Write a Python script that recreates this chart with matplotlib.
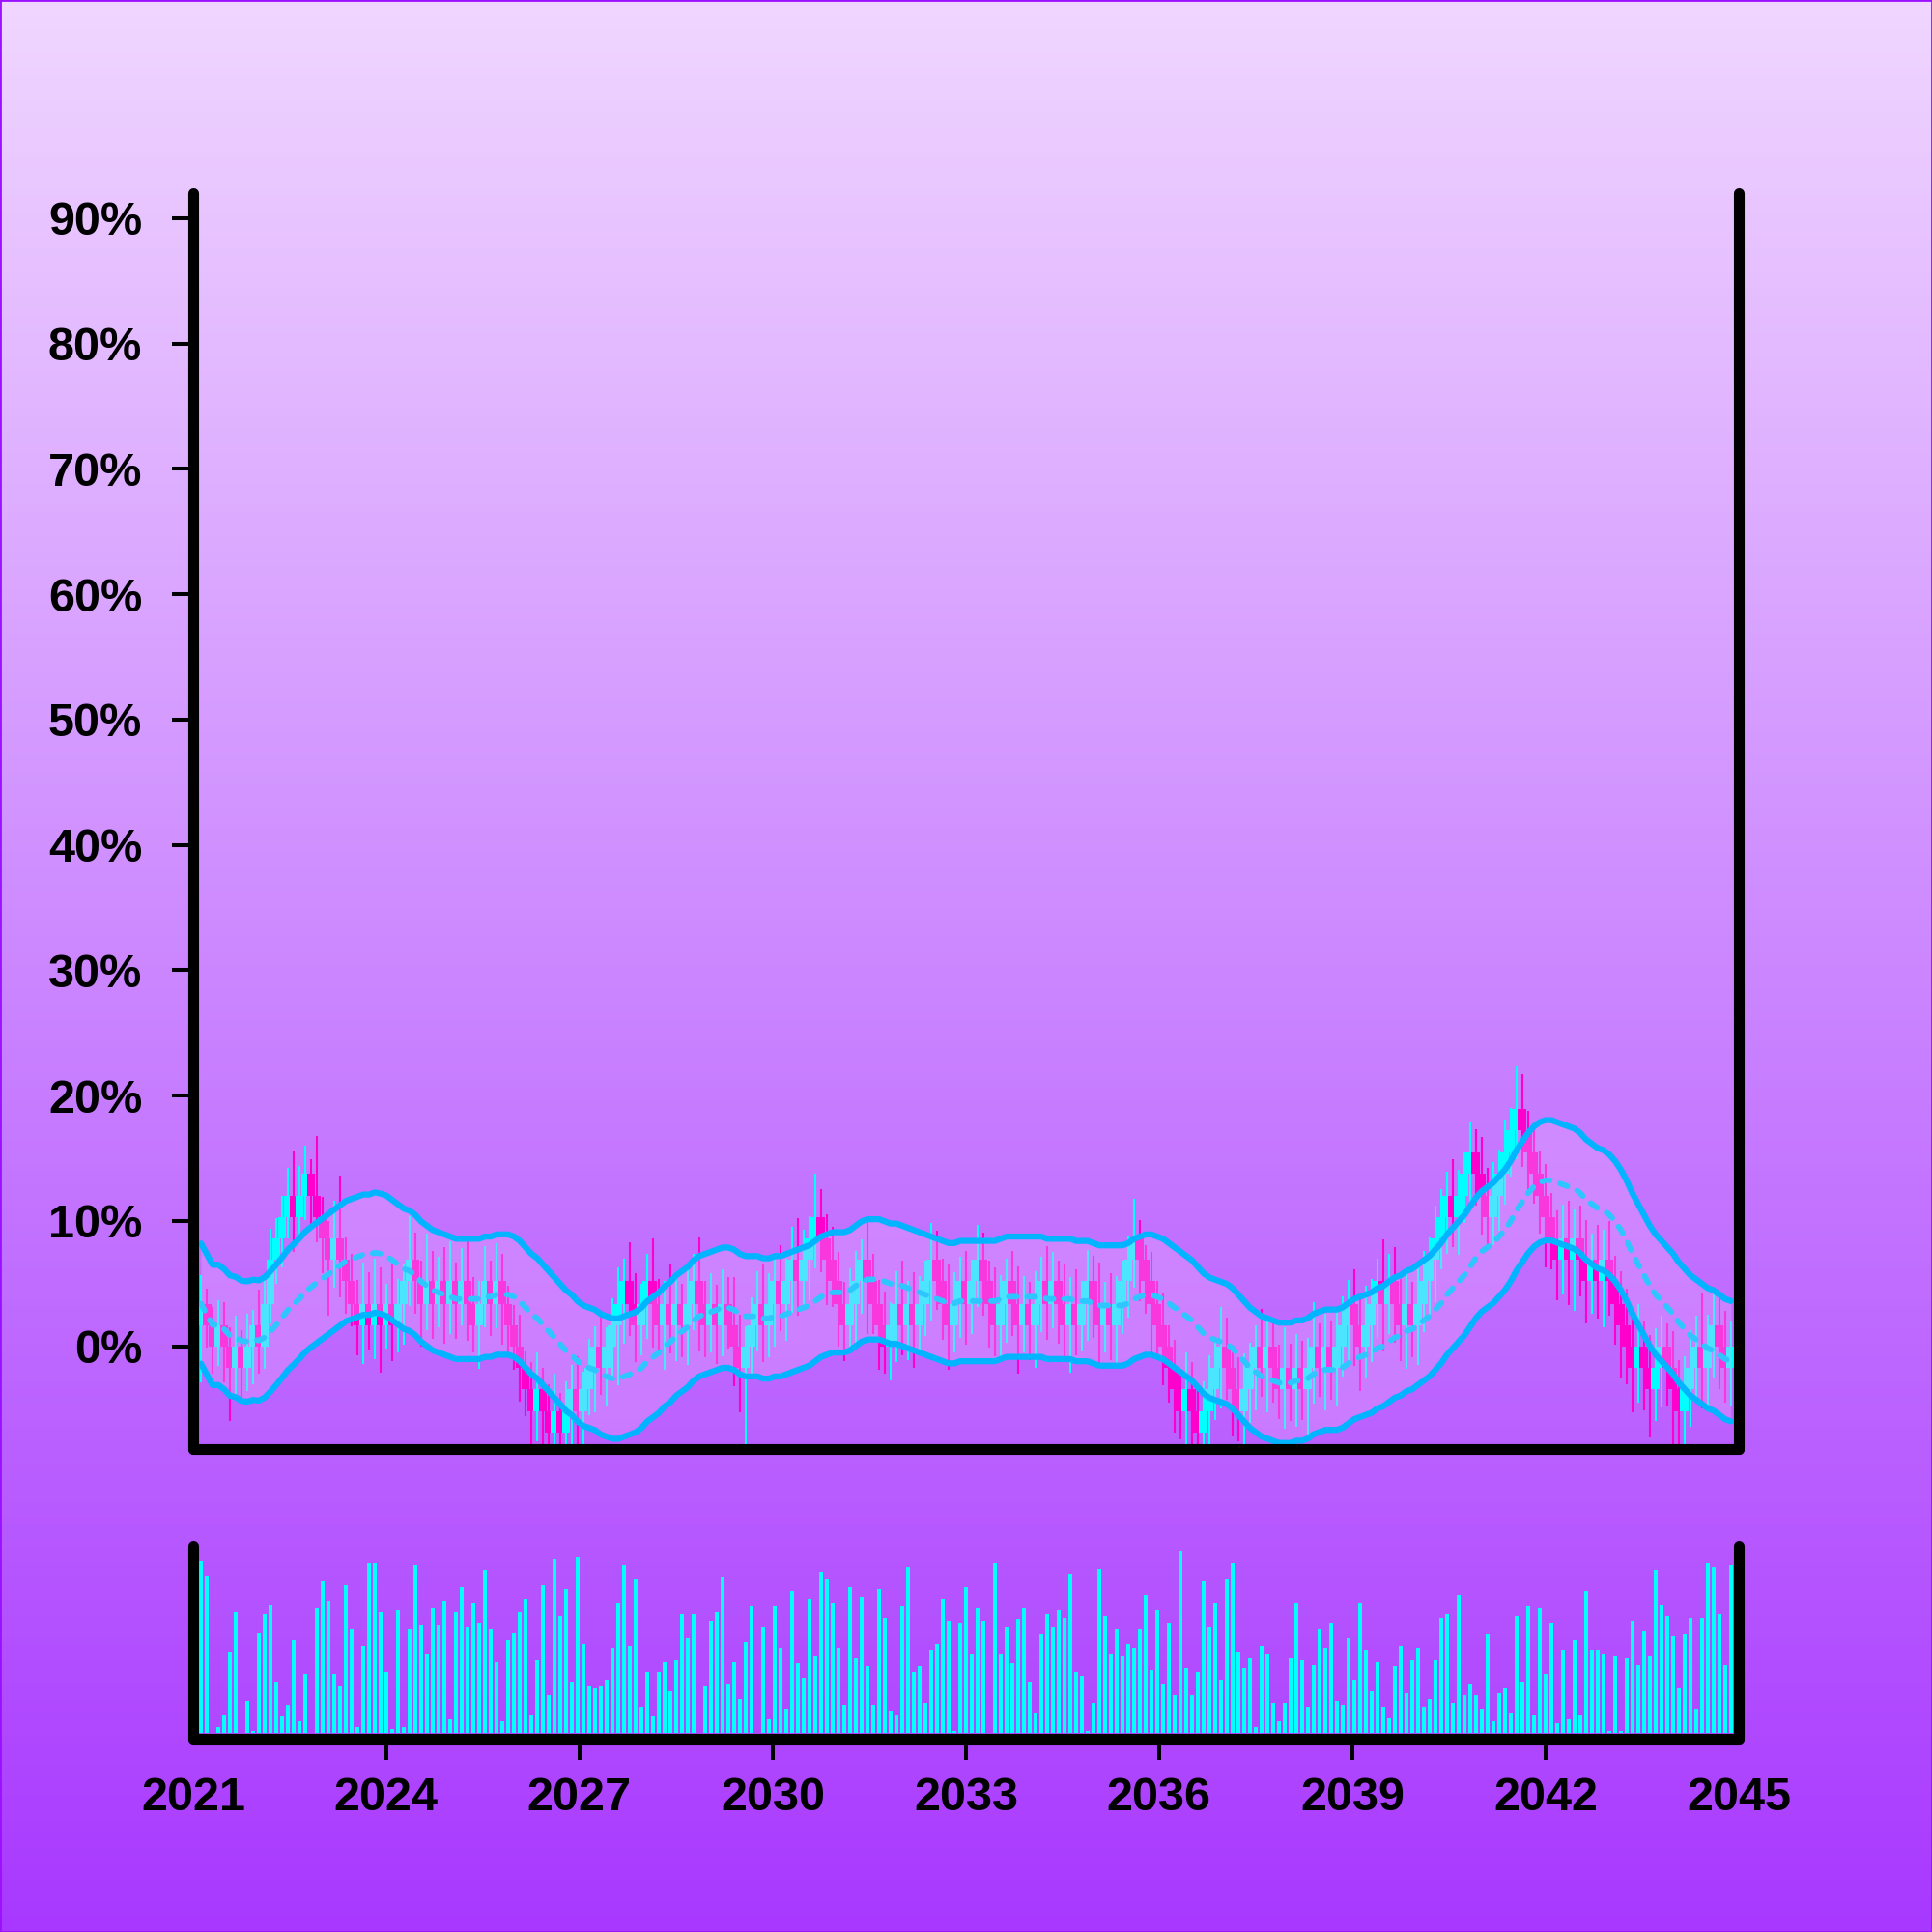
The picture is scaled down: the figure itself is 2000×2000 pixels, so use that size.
import numpy as np
import pandas as pd
import matplotlib
matplotlib.use("Agg")
import matplotlib.pyplot as plt
import matplotlib.dates as mdates
from matplotlib.colors import LinearSegmentedColormap
from matplotlib.patches import Rectangle
from datetime import datetime

plt.rcParams["font.family"] = ["Liberation Sans", "DejaVu Sans"]

# one candle roughly every 33 days, Feb 2021 .. Nov 2044
dates = pd.date_range("2021-02-14", "2044-11-17", periods=265)

first_open = 1.7
closes = [
    3.4, 1.7, 0, 1.7, 0, -1.7, 0, -1.7, 0, 1.7, 0, 3.4, 6.9, 8.6, 10.3, 12.0, 10.3, 12.0, 13.8, 12.0,
    10.3, 8.6, 6.9, 8.6, 6.9, 5.2, 3.4, 1.7, 3.4, 1.7, 3.4, 1.7, 3.4, 1.7, 3.4, 5.2, 6.9, 5.2, 3.4, 5.2,
    3.4, 5.2, 3.4, 5.2, 3.4, 5.2, 3.4, 1.7, 3.4, 5.2, 3.4, 5.2, 3.4, 1.7, 0, -1.7, -3.4, -5.2, -3.4, -5.2,
    -6.9, -5.2, -6.9, -5.2, -3.4, -5.2, -3.4, -1.7, 0, -1.7, 0, 1.7, 3.4, 5.2, 3.4, 1.7, 3.4, 5.2, 3.4, 1.7,
    3.4, 1.7, 3.4, 1.7, 3.4, 5.2, 3.4, 1.7, 3.4, 1.7, 3.4, 1.7, 0, -1.7, 0, 1.7, 3.4, 1.7, 3.4, 5.2,
    3.4, 5.2, 6.9, 5.2, 6.9, 8.6, 10.3, 8.6, 6.9, 5.2, 3.4, 1.7, 3.4, 5.2, 6.9, 5.2, 3.4, 1.7, 0, 1.7,
    3.4, 1.7, 3.4, 1.7, 3.4, 5.2, 6.9, 5.2, 3.4, 1.7, 3.4, 5.2, 3.4, 5.2, 6.9, 5.2, 3.4, 1.7, 3.4, 5.2,
    3.4, 1.7, 3.4, 1.7, 3.4, 5.2, 3.4, 5.2, 3.4, 1.7, 3.4, 1.7, 3.4, 5.2, 3.4, 1.7, 3.4, 1.7, 3.4, 5.2,
    6.9, 8.6, 6.9, 5.2, 3.4, 1.7, 0, -1.7, -3.4, -5.2, -3.4, -5.2, -6.9, -5.2, -3.4, -1.7, 0, -1.7, -3.4, -5.2,
    -3.4, -1.7, 0, -1.7, 0, -1.7, -3.4, -1.7, -3.4, -1.7, -3.4, -1.7, 0, -1.7, 0, -1.7, 0, 1.7, 3.4, 1.7,
    0, 1.7, 3.4, 5.2, 3.4, 5.2, 3.4, 1.7, 3.4, 1.7, 3.4, 5.2, 6.9, 8.6, 10.3, 12.0, 10.3, 12.0, 13.8, 15.5,
    13.8, 12.0, 10.3, 12.0, 13.8, 15.5, 17.2, 18.9, 17.2, 15.5, 13.8, 12.0, 10.3, 8.6, 6.9, 8.6, 6.9, 8.6, 6.9, 5.2,
    6.9, 5.2, 6.9, 5.2, 3.4, 1.7, 0, -1.7, 0, -1.7, -3.4, -1.7, 0, -1.7, -3.4, -5.2, -3.4, -1.7, 0, -1.7,
    0, 1.7, 0, -1.7, 0,
]

# wick length above / below the candle body
upper_wick = [
    2.3, 1.2, 1.4, 2.0, 1.8, 1.5, 2.4, 1.3, 2.6, 1.2, 2.8, 1.9, 2.5, 1.6, 1.7, 2.2, 3.6, 2.4, 2.2, 1.1,
    4.8, 1.6, 1.4, 3.0, 5.0, 1.8, 2.2, 1.9, 3.3, 2.5, 3.6, 2.9, 1.6, 3.1, 2.0, 1.3, 3.5, 2.2, 1.6, 3.8,
    2.4, 1.9, 2.7, 3.2, 1.5, 2.6, 3.4, 2.1, 1.8, 2.8, 1.6, 3.0, 2.2, 1.4, 1.6, 2.5, 1.3, 2.1, 2.9, 1.7,
    2.2, 3.0, 1.5, 2.4, 1.9, 2.6, 1.4, 2.3, 1.6, 2.8, 1.5, 2.1, 2.9, 1.8, 3.1, 2.4, 1.6, 2.2, 3.4, 2.0,
    1.8, 3.2, 2.5, 1.6, 2.9, 2.2, 3.5, 1.8, 2.4, 1.5, 2.7, 2.1, 3.8, 2.5, 1.6, 2.2, 2.6, 3.1, 2.4, 1.7,
    2.9, 1.8, 2.6, 3.3, 2.4, 1.8, 3.5, 2.2, 1.9, 2.6, 2.3, 1.7, 2.8, 2.4, 1.6, 3.0, 2.2, 1.9, 2.7, 1.8,
    2.6, 3.4, 1.8, 2.5, 2.2, 1.6, 2.9, 2.3, 1.8, 3.1, 2.5, 1.9, 2.4, 1.7, 2.8, 2.2, 1.6, 2.9, 2.3, 1.8,
    2.4, 3.0, 2.2, 1.7, 2.6, 1.9, 2.8, 2.3, 1.6, 3.2, 2.1, 2.7, 1.8, 2.5, 2.0, 3.3, 1.7, 2.4, 2.2, 1.6,
    1.9, 3.2, 1.5, 1.2, 2.3, 1.8, 2.6, 1.7, 2.2, 1.6, 2.9, 2.1, 1.8, 2.4, 2.7, 2.0, 3.1, 2.3, 1.6, 2.5,
    2.8, 2.0, 1.7, 3.0, 2.4, 2.2, 1.8, 3.2, 1.9, 2.7, 2.1, 2.4, 3.5, 1.8, 2.6, 2.0, 2.9, 2.3, 1.9, 2.7,
    2.3, 3.1, 2.0, 1.8, 3.3, 2.2, 2.7, 2.0, 2.9, 1.7, 3.0, 2.4, 1.8, 2.6, 2.2, 1.9, 2.9, 2.1, 1.7, 2.4,
    1.8, 2.9, 2.2, 2.7, 1.9, 2.6, 1.8, 3.4, 2.8, 1.6, 2.1, 1.8, 2.5, 1.9, 2.2, 2.7, 3.0, 2.3, 2.6, 3.2,
    2.1, 2.8, 2.4, 3.1, 2.0, 2.6, 2.9, 2.2, 3.4, 2.0, 2.6, 3.1, 2.4, 1.8, 2.9, 2.3, 2.6, 3.0, 2.4, 4.2,
    2.5, 3.0, 2.2, 2.8, 2.0,
]
lower_wick = [
    4.6, 1.8, 2.2, 1.6, 2.9, 4.3, 2.1, 2.6, 1.9, 3.0, 2.2, 1.8, 1.6, 1.9, 2.3, 1.7, 2.8, 2.1, 1.9, 2.5,
    2.0, 2.8, 4.5, 2.2, 3.0, 2.6, 1.8, 2.4, 3.1, 2.0, 2.7, 3.8, 1.9, 2.9, 2.2, 3.3, 2.0, 2.6, 3.4, 2.1,
    2.8, 1.9, 3.2, 2.4, 2.8, 1.7, 3.0, 2.2, 3.5, 1.9, 2.6, 2.0, 3.3, 2.4, 1.9, 2.7, 2.2, 3.5, 2.4, 2.8,
    2.0, 3.1, 2.6, 2.4, 3.3, 2.7, 3.4, 2.1, 3.6, 2.2, 3.0, 2.5, 4.8, 3.2, 2.6, 3.0, 2.4, 2.8, 3.5, 2.4,
    3.6, 2.3, 2.9, 2.6, 3.2, 2.1, 3.8, 2.6, 2.2, 3.1, 2.5, 1.9, 3.2, 3.6, 7.0, 2.4, 2.1, 3.0, 2.6, 3.4,
    2.2, 3.0, 2.5, 2.8, 2.0, 3.2, 2.4, 2.7, 3.6, 2.1, 3.4, 2.9, 2.3, 3.1, 2.6, 4.2, 2.4, 3.6, 2.2, 2.7,
    3.0, 2.4, 2.8, 3.4, 2.1, 2.6, 3.2, 2.3, 2.9, 3.6, 2.2, 2.7, 3.3, 2.4, 2.1, 2.8, 3.5, 2.5, 2.9, 3.1,
    2.6, 3.9, 2.2, 2.8, 3.4, 2.3, 2.9, 2.0, 3.2, 2.6, 3.8, 2.4, 2.1, 3.0, 2.7, 3.4, 2.2, 2.8, 3.1, 2.4,
    2.9, 2.2, 3.3, 2.6, 3.9, 2.4, 3.1, 2.8, 3.5, 2.2, 3.0, 2.7, 2.4, 3.2, 2.9, 2.5, 3.3, 2.6, 3.8, 2.4,
    3.1, 2.7, 3.4, 2.3, 3.6, 2.8, 2.4, 3.2, 2.6, 3.0, 2.5, 3.7, 2.9, 2.3, 3.4, 2.6, 3.0, 2.4, 2.8, 3.3,
    3.6, 2.5, 3.0, 2.7, 3.8, 2.4, 3.1, 2.9, 3.5, 2.6, 3.2, 2.3, 2.8, 3.4, 2.5, 2.9, 2.4, 3.0, 2.2, 2.7,
    2.6, 3.1, 2.4, 2.2, 2.8, 2.5, 2.0, 2.3, 2.9, 3.4, 2.4, 3.0, 4.0, 2.5, 3.2, 2.8, 3.6, 4.1, 2.9, 3.4,
    2.6, 3.0, 3.7, 2.8, 3.3, 4.2, 3.0, 3.6, 2.8, 3.4, 3.9, 2.6, 3.2, 3.0, 4.4, 2.8, 3.6, 3.0, 2.7, 3.3,
    3.1, 2.6, 3.4, 2.8, 3.0,
]

volume = [
    91, 83, 0, 3, 10, 43, 64, 0, 17, 1, 53, 63, 68, 27, 9, 15, 49, 6, 31, 0,
    66, 80, 70, 31, 25, 78, 55, 3, 46, 90, 90, 64, 32, 2, 65, 3, 55, 89, 57, 42,
    66, 57, 70, 7, 64, 77, 56, 69, 58, 86, 55, 38, 6, 49, 53, 64, 71, 10, 39, 78,
    20, 92, 62, 76, 27, 93, 47, 25, 24, 25, 28, 45, 69, 89, 46, 81, 14, 32, 9, 32,
    38, 22, 39, 63, 50, 63, 0, 25, 59, 64, 82, 26, 38, 18, 48, 67, 0, 56, 7, 67,
    45, 13, 75, 37, 29, 71, 41, 85, 81, 69, 45, 15, 77, 40, 72, 35, 15, 76, 61, 12,
    10, 67, 88, 32, 35, 16, 44, 47, 71, 59, 1, 58, 77, 42, 66, 59, 0, 90, 42, 56,
    37, 60, 66, 27, 11, 52, 63, 56, 65, 61, 84, 32, 30, 1, 16, 87, 62, 42, 55, 41,
    47, 45, 55, 73, 33, 65, 26, 58, 20, 96, 34, 20, 32, 80, 56, 69, 28, 81, 90, 43,
    34, 40, 3, 46, 42, 16, 6, 16, 40, 69, 39, 14, 36, 55, 45, 58, 17, 15, 50, 28,
    69, 44, 22, 38, 14, 8, 35, 46, 21, 39, 45, 14, 18, 39, 61, 63, 16, 73, 20, 26,
    20, 13, 52, 6, 21, 24, 11, 62, 27, 67, 10, 66, 31, 58, 5, 44, 7, 49, 10, 75,
    44, 44, 42, 1, 41, 1, 40, 59, 36, 54, 41, 86, 68, 62, 51, 24, 52, 61, 13, 61,
    90, 88, 63, 36, 89,
]

y_ticks = [0, 10, 20, 30, 40, 50, 60, 70, 80, 90]
x_tick_years = [2021, 2024, 2027, 2030, 2033, 2036, 2039, 2042, 2045]

ma_window = 20
band_width = 4.8

up_color = "#00ffff"
down_color = "#ff00cc"
band_color = "#00b4ff"
mid_color = "#2ec6ff"

# ---- derived series
closes = np.array(closes)
opens = np.concatenate([[first_open], closes[:-1]])
highs = np.maximum(opens, closes) + np.array(upper_wick)
lows = np.minimum(opens, closes) - np.array(lower_wick)
mid = pd.Series(closes).rolling(ma_window, min_periods=1).mean().values
upper = mid + band_width
lower = mid - band_width
rising = closes >= opens
colors = np.where(rising, up_color, down_color)

x = mdates.date2num(dates)
x_min = mdates.date2num(datetime(2021, 1, 1))
x_max = mdates.date2num(datetime(2045, 1, 1))

fig = plt.figure(figsize=(20, 20), dpi=100)

# gradient background
bg = fig.add_axes([0, 0, 1, 1], zorder=-5)
cmap = LinearSegmentedColormap.from_list("bg", ["#a838ff", "#f0d6ff"])
bg.imshow(np.linspace(0, 1, 256).reshape(-1, 1), aspect="auto", cmap=cmap,
          origin="lower", extent=[0, 1, 0, 1])
bg.axis("off")
fig.patches.append(Rectangle((0, 0), 1, 1, transform=fig.transFigure, fill=False,
                             edgecolor="#9a10ff", linewidth=2))

ax = fig.add_axes([0.1, 0.25, 0.8, 0.65])
vax = fig.add_axes([0.1, 0.1, 0.8, 0.1])

# ---- candles
ax.vlines(x, lows, highs, colors=colors, linewidth=1.5, zorder=2)
ax.bar(x, closes - opens, bottom=opens, width=49, color=colors, linewidth=0, zorder=3)

# ---- bollinger band
ax.fill_between(x, lower, upper, color="#eab0ff", alpha=0.32, linewidth=0, zorder=4)
ax.plot(x, upper, color=band_color, linewidth=4.5, solid_capstyle="round", zorder=5)
ax.plot(x, lower, color=band_color, linewidth=4.5, solid_capstyle="round", zorder=5)
ax.plot(x, mid, color=mid_color, linewidth=4.2, linestyle=(0, (1.4, 1.9)),
        dash_capstyle="round", zorder=5)

ax.set_xlim(x_min, x_max)
ax.set_ylim(-8.2, 92)
ax.set_yticks(y_ticks)
ax.set_yticklabels([f"{t}%" for t in y_ticks], fontsize=35, fontweight="bold")
ax.tick_params(axis="y", length=16, width=2.9, pad=22, color="black")
ax.tick_params(axis="x", bottom=False, labelbottom=False)

# ---- volume
vax.bar(x, volume, width=22, color=up_color, linewidth=0)
vax.set_xlim(x_min, x_max)
vax.set_ylim(-3, 99)
vax.set_yticks([])
tick_pos = [mdates.date2num(datetime(y, 1, 1)) for y in x_tick_years]
vax.set_xticks(tick_pos)
vax.set_xticklabels([str(y) for y in x_tick_years], fontsize=35, fontweight="bold")
vax.tick_params(axis="x", length=16, width=2.9, pad=12, color="black")
# no tick marks under the two corners
edge_ticks = vax.xaxis.get_major_ticks()
edge_ticks[0].tick1line.set_visible(False)
edge_ticks[-1].tick1line.set_visible(False)

for a in (ax, vax):
    a.set_facecolor("none")
    a.spines["top"].set_visible(False)
    for side in ("left", "right", "bottom"):
        a.spines[side].set_linewidth(8)
        a.spines[side].set_capstyle("round")
        a.spines[side].set_zorder(10)

fig.savefig("out.png", dpi=100)
